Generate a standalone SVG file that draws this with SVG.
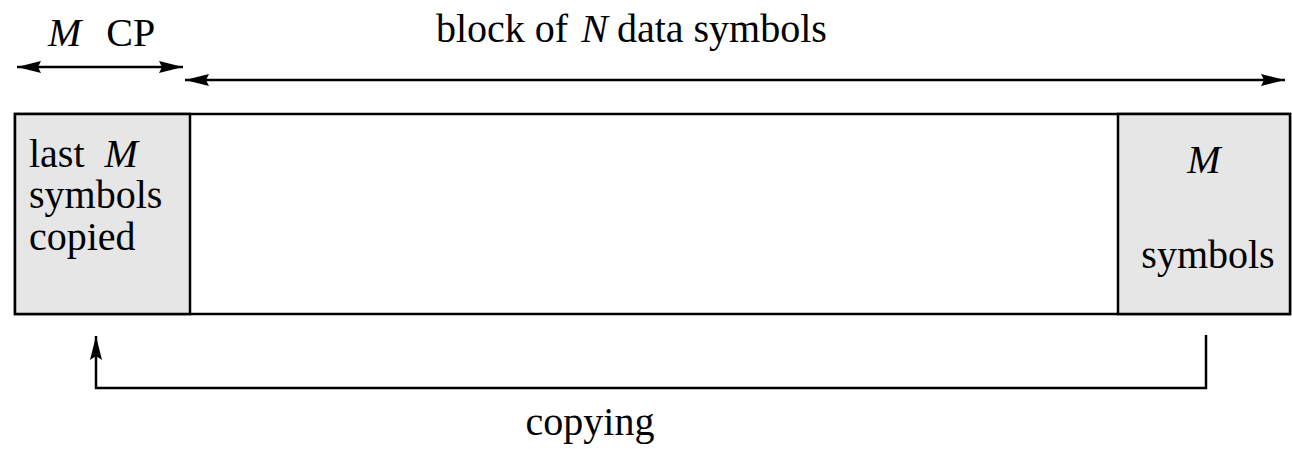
<svg xmlns="http://www.w3.org/2000/svg" width="1292" height="449" viewBox="0 0 1292 449">
<defs>
<marker id="ah" viewBox="0 0 24 12" refX="24" refY="6" markerWidth="24" markerHeight="12" markerUnits="userSpaceOnUse" orient="auto-start-reverse">
<path d="M0,0 L24,6 L0,12 L3,6 Z" fill="#000"/>
</marker>
<marker id="ah2" viewBox="0 0 12 24" refX="6" refY="0" markerWidth="12" markerHeight="24" markerUnits="userSpaceOnUse" orient="0">
<path d="M6,0 L12,24 L6,20 L0,24 Z" fill="#000"/>
</marker>
</defs>
<rect width="1292" height="449" fill="#fff"/>
<g id="frame">
<rect x="15" y="114" width="1275" height="200" fill="#fff" stroke="#000" stroke-width="2.5"/>
</g>
<g id="cp-box">
<rect x="15" y="114" width="175" height="200" fill="#e6e6e6" stroke="#000" stroke-width="2.5"/>
<text x="29" y="167" font-size="40" font-family="Liberation Serif">last<tspan font-style="italic" dx="20">M</tspan></text>
<text x="29" y="208" font-size="40" font-family="Liberation Serif">symbols</text>
<text x="29" y="250" font-size="40" font-family="Liberation Serif">copied</text>
</g>
<g id="tail-box">
<rect x="1118" y="114" width="172" height="200" fill="#e6e6e6" stroke="#000" stroke-width="2.5"/>
<text x="1204" y="173" text-anchor="middle" font-style="italic" font-size="40" font-family="Liberation Serif">M</text>
<text x="1208" y="268" text-anchor="middle" font-size="40" font-family="Liberation Serif">symbols</text>
</g>
<g id="labels">
<text x="48" y="46" font-size="40" font-family="Liberation Serif"><tspan font-style="italic">M</tspan><tspan dx="25">CP</tspan></text>
<text x="436" y="42" font-size="40" font-family="Liberation Serif">block of<tspan dx="13" font-style="italic">N</tspan><tspan dx="9">data symbols</tspan></text>
<text x="590" y="435" text-anchor="middle" font-size="40" font-family="Liberation Serif">copying</text>
</g>
<g id="connectors" stroke="#000" stroke-width="2.5" fill="none">
<line x1="17" y1="67" x2="183" y2="67" marker-start="url(#ah)" marker-end="url(#ah)"/>
<line x1="185" y1="80" x2="1285" y2="80" marker-start="url(#ah)" marker-end="url(#ah)"/>
<polyline points="1206,335 1206,388 96,388 96,336" marker-end="url(#ah2)"/>
</g>
</svg>
